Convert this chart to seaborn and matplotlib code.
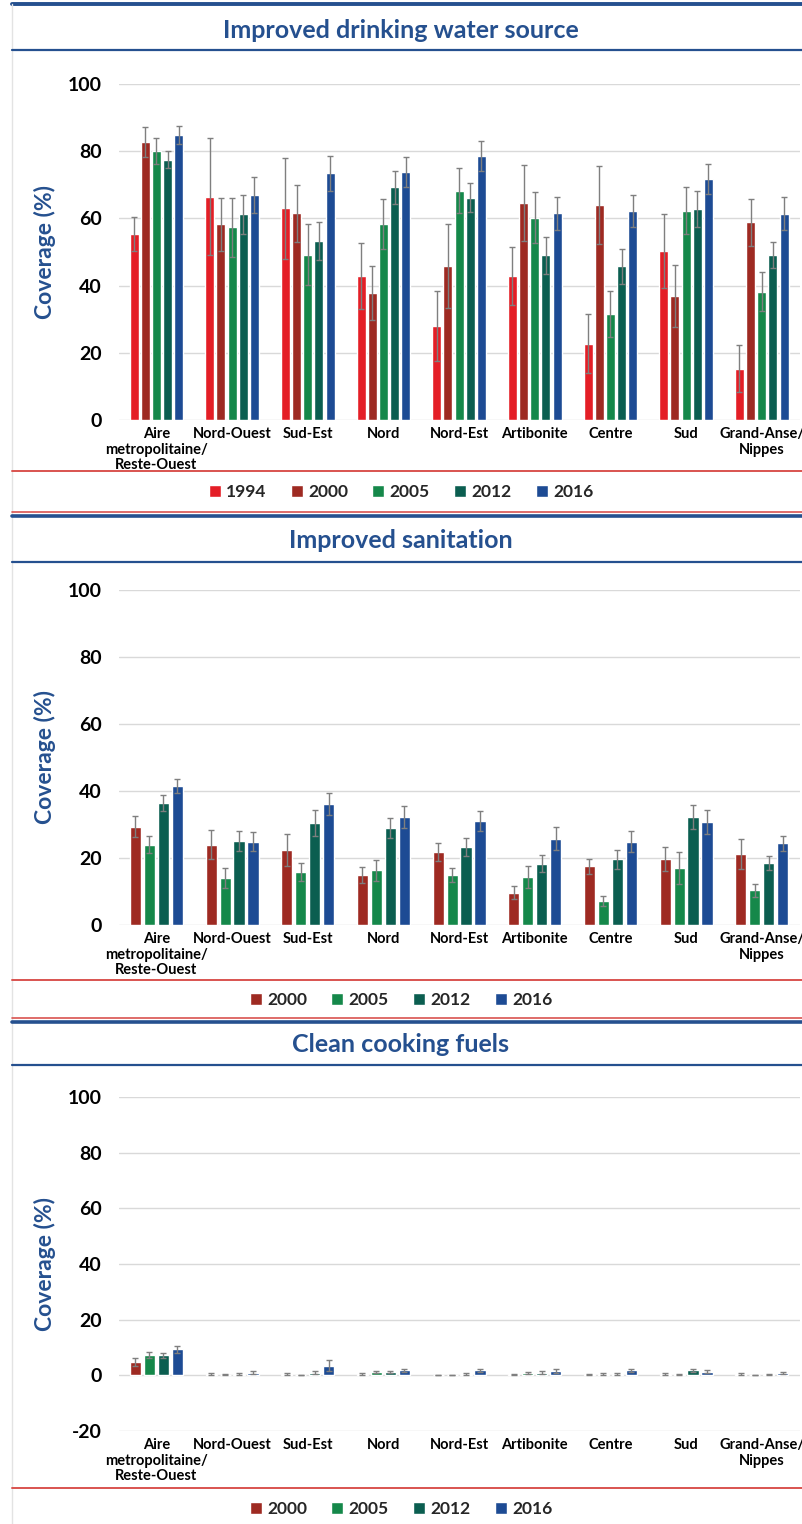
import matplotlib
matplotlib.use("Agg")
import matplotlib.pyplot as plt
from matplotlib.lines import Line2D
import seaborn as sns
import pandas as pd

# regiones (etiquetas del eje x)
regions = ["Aire\nmetropolitaine/\nReste-Ouest", "Nord-Ouest", "Sud-Est", "Nord",
           "Nord-Est", "Artibonite", "Centre", "Sud", "Grand-Anse/\nNippes"]

# agua potable mejorada
water_1994 = [55.3, 66.5, 63.0, 42.9, 28.0, 42.8, 22.7, 50.3, 15.3]
water_1994_err = [5.1, 17.3, 15.1, 9.9, 10.5, 8.7, 8.7, 11.0, 7.1]
water_2000 = [82.7, 58.2, 61.5, 37.9, 45.7, 64.7, 64.0, 37.0, 58.8]
water_2000_err = [4.5, 7.9, 8.5, 8.0, 12.5, 11.3, 11.6, 9.2, 6.9]
water_2005 = [80.1, 57.4, 49.2, 58.4, 68.2, 60.2, 31.6, 62.3, 38.1]
water_2005_err = [3.9, 8.8, 9.0, 7.4, 6.7, 7.6, 6.9, 6.9, 5.8]
water_2012 = [77.5, 61.3, 53.3, 69.2, 66.1, 49.0, 45.7, 62.8, 49.1]
water_2012_err = [2.6, 5.8, 5.7, 5.0, 4.3, 5.6, 5.3, 5.4, 3.8]
water_2016 = [84.8, 67.0, 73.4, 73.7, 78.6, 61.5, 62.2, 71.7, 61.4]
water_2016_err = [2.6, 5.4, 5.3, 4.5, 4.5, 5.0, 4.7, 4.5, 5.0]

# saneamiento
sanit_2000 = [29.4, 24.0, 22.4, 14.9, 21.8, 9.7, 17.5, 19.7, 21.1]
sanit_2000_err = [3.2, 4.3, 4.7, 2.4, 2.8, 1.9, 2.3, 3.7, 4.5]
sanit_2005 = [24.0, 14.0, 15.8, 16.3, 14.9, 14.2, 7.3, 16.9, 10.3]
sanit_2005_err = [2.5, 3.0, 2.8, 3.2, 2.1, 3.3, 1.5, 4.8, 2.0]
sanit_2012 = [36.4, 25.0, 30.5, 29.0, 23.3, 18.3, 19.6, 32.2, 18.6]
sanit_2012_err = [2.4, 3.0, 3.8, 3.0, 2.7, 2.5, 2.9, 3.5, 2.1]
sanit_2016 = [41.5, 24.9, 36.0, 32.2, 31.0, 25.8, 24.9, 30.7, 24.4]
sanit_2016_err = [2.1, 2.8, 3.3, 3.3, 3.0, 3.5, 3.2, 3.6, 2.2]

# combustibles limpios
fuel_2000 = [4.9, 0.5, 0.5, 0.5, 0.1, 0.3, 0.3, 0.5, 0.4]
fuel_2000_err = [1.4, 0.3, 0.3, 0.3, 0.1, 0.2, 0.2, 0.3, 0.3]
fuel_2005 = [7.4, 0.2, 0.1, 1.2, 0.1, 0.8, 0.4, 0.3, 0.0]
fuel_2005_err = [1.1, 0.2, 0.1, 0.5, 0.1, 0.4, 0.3, 0.2, 0.0]
fuel_2012 = [7.2, 0.4, 1.0, 1.2, 0.5, 1.0, 0.6, 1.8, 0.3]
fuel_2012_err = [1.0, 0.3, 0.6, 0.5, 0.3, 0.5, 0.4, 0.6, 0.3]
fuel_2016 = [9.4, 1.0, 3.5, 1.8, 1.8, 1.5, 1.8, 1.3, 0.8]
fuel_2016_err = [1.2, 0.4, 2.0, 0.6, 0.6, 0.6, 0.6, 0.6, 0.4]

colores = {"1994": "#E41E26", "2000": "#9E2A22", "2005": "#15884A",
           "2012": "#0B5E50", "2016": "#1D4B94"}
azul = "#25508F"
rojo = "#D9534F"

sns.set_theme(style="white")
plt.rcParams["font.family"] = ["Lato", "DejaVu Sans"]
plt.rcParams["axes.unicode_minus"] = False

W, H = 802, 1524
fig = plt.figure(figsize=(W / 100, H / 100), dpi=100)


def fy(y):
    return 1 - y / H


def linea(y, color, lw, x0=12):
    fig.add_artist(Line2D([x0 / W, 1], [fy(y), fy(y)], color=color, lw=lw,
                          transform=fig.transFigure))


def panel(titulo, series, y_top, y_bot, ymin, ymax, ticks, title_y, line_y,
          red_y, legend_y, next_y):
    datos = []
    errores = []
    for year, vals, errs in series:
        for r, v in zip(regions, vals):
            datos.append({"region": r, "year": year, "value": v})
        errores.append(errs)
    df = pd.DataFrame(datos)

    ax = fig.add_axes([118.6 / W, fy(y_bot), 681 / W, (y_bot - y_top) / H])
    years = [s[0] for s in series]
    sns.barplot(data=df, x="region", y="value", hue="year", hue_order=years,
                palette=[colores[y] for y in years], errorbar=None,
                width=0.74, gap=0.2, saturation=1, ax=ax)
    for cont, errs in zip(ax.containers, errores):
        xs = [p.get_x() + p.get_width() / 2 for p in cont]
        hs = [p.get_height() for p in cont]
        ax.errorbar(xs, hs, yerr=errs, fmt="none", ecolor="#7F7F7F",
                    elinewidth=1, capsize=2.5, capthick=1, zorder=5)
    ax.set_ylim(ymin, ymax)
    ax.set_xlim(-0.5, len(regions) - 0.5)
    ax.set_yticks(ticks)
    ax.yaxis.grid(True, color="#D9D9D9", lw=1)
    ax.set_axisbelow(True)
    for s in ax.spines.values():
        s.set_visible(False)

    # primera linea como etiqueta, el resto como texto aparte
    ax.set_xticks(range(len(regions)))
    ax.set_xticklabels([r.split("\n")[0] for r in regions])
    for i, r in enumerate(regions):
        resto = r.split("\n")[1:]
        for k, txt in enumerate(resto):
            ax.annotate(txt, xy=(i, 0), xycoords=("data", "axes fraction"),
                        xytext=(0, -5 - 11.3 * (k + 1)), textcoords="offset points",
                        ha="center", va="top", fontsize=10.5, fontweight="bold",
                        color="black", annotation_clip=False)
    ax.tick_params(axis="y", labelsize=14, pad=12, length=0)
    ax.tick_params(axis="x", labelsize=10.5, pad=5, length=0)
    for t in ax.get_yticklabels() + ax.get_xticklabels():
        t.set_fontweight("bold")
        t.set_color("black")
    ax.set_xlabel("")
    ax.set_ylabel("Coverage (%)", fontsize=16.5, fontweight="bold", color=azul)
    ax.yaxis.set_label_coords((56 - 118.6) / 681, 0.5)

    handles, labels = ax.get_legend_handles_labels()
    ax.legend_.remove()
    fig.legend(handles, labels, loc="center", bbox_to_anchor=(0.5, fy(legend_y)),
               ncol=len(years), frameon=False, handlelength=0.7,
               handleheight=0.7, handletextpad=0.3, columnspacing=1.4,
               prop={"weight": "bold", "size": 12.5})

    fig.text(0.5, fy(title_y), titulo, ha="center", va="center",
             fontsize=18, fontweight="bold", color=azul)
    linea(line_y, azul, 1.6)
    linea(red_y, rojo, 1.4)
    if next_y is not None:
        linea(next_y, rojo, 1.2)
        linea(next_y + 4, azul, 2.6)


# linea superior y borde izquierdo
linea(4, azul, 2.8)
fig.add_artist(Line2D([12 / W, 12 / W], [0, fy(4)], color="#E3E3E3", lw=1,
                      transform=fig.transFigure))

panel("Improved drinking water source",
      [("1994", water_1994, water_1994_err), ("2000", water_2000, water_2000_err),
       ("2005", water_2005, water_2005_err), ("2012", water_2012, water_2012_err),
       ("2016", water_2016, water_2016_err)],
      84, 420, 0, 100, [0, 20, 40, 60, 80, 100], 30, 50, 471, 492, 512)

panel("Improved sanitation",
      [("2000", sanit_2000, sanit_2000_err), ("2005", sanit_2005, sanit_2005_err),
       ("2012", sanit_2012, sanit_2012_err), ("2016", sanit_2016, sanit_2016_err)],
      590, 925, 0, 100, [0, 20, 40, 60, 80, 100], 540, 562, 980, 1000, 1018)

panel("Clean cooking fuels",
      [("2000", fuel_2000, fuel_2000_err), ("2005", fuel_2005, fuel_2005_err),
       ("2012", fuel_2012, fuel_2012_err), ("2016", fuel_2016, fuel_2016_err)],
      1097, 1431, -20, 100, [-20, 0, 20, 40, 60, 80, 100], 1044, 1065, 1488, 1509, None)

fig.savefig("out.png", dpi=100)
